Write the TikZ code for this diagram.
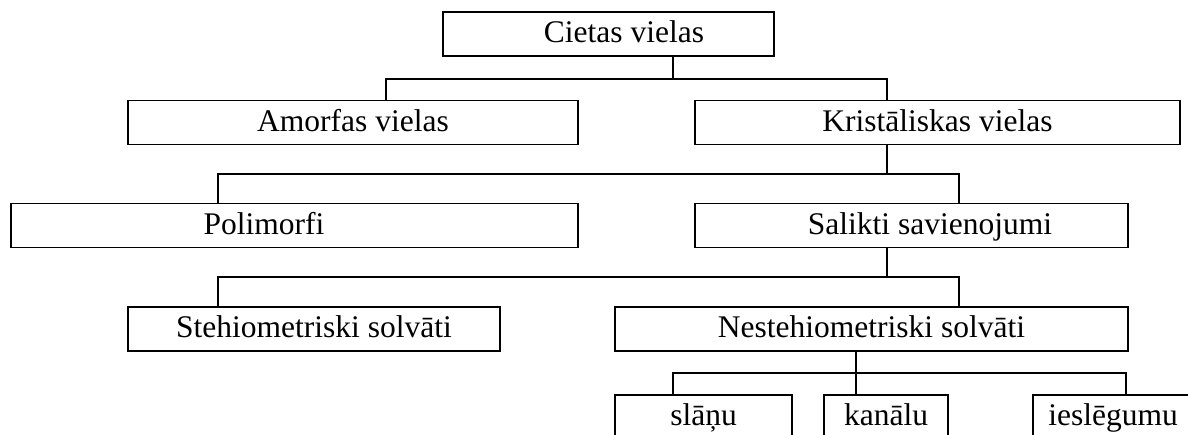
\documentclass[tikz,border=0pt]{standalone}
\usepackage{fontspec}
\setmainfont{Liberation Serif}

\begin{document}
\begin{tikzpicture}[x=1pt, y=-1pt, line width=1.9pt,
    vbox/.style={draw, rectangle, inner sep=0pt, minimum height=44pt,
        text height=22pt, text depth=5pt, font=\fontsize{31.5}{36}\selectfont}]
    \useasboundingbox (0,0) rectangle (1188,434);
    \clip (0,0) rectangle (1188,434);
    % boxes
    \node[vbox, minimum width=331pt] (cietas) at (608.5,34) {\hspace*{31pt}Cietas vielas};
    \node[vbox, minimum width=450pt] (amorfas) at (353,122.5) {Amorfas vielas};
    \node[vbox, minimum width=485pt] (krist) at (937.5,122.5) {Kristāliskas vielas};
    \node[vbox, minimum width=567pt] (polimorfi) at (294.5,225.5) {Polimorfi\hspace*{61pt}};
    \node[vbox, minimum width=433pt] (salikti) at (911.5,225.5) {\hspace*{37pt}Salikti savienojumi};
    \node[vbox, minimum width=372pt] (stehio) at (314,329) {Stehiometriski solvāti};
    \node[vbox, minimum width=513pt] (nestehio) at (871.5,329) {Nestehiometriski solvāti};
    \node[vbox, minimum width=177pt] (slanu) at (703.5,417) {slāņu};
    \node[vbox, minimum width=124pt] (kanalu) at (886,417) {kanālu};
    \node[vbox, minimum width=160pt] (ieslegumu) at (1113,417) {ieslēgumu};
    % connectors
    \coordinate (b1) at (673,79);
    \coordinate (b2) at (887,174);
    \coordinate (b3) at (887,277);
    \coordinate (b4) at (856,373);
    \draw (cietas.south -| b1) -- (b1);
    \draw ([xshift=33pt]amorfas.north) |- (b1) -| ([xshift=-50.5pt]krist.north);
    \draw (krist.south -| b2) -- (b2);
    \draw ([xshift=-76.5pt]polimorfi.north) |- (b2) -| ([xshift=47.5pt]salikti.north);
    \draw (salikti.south -| b3) -- (b3);
    \draw ([xshift=-96pt]stehio.north) |- (b3) -| ([xshift=87.5pt]nestehio.north);
    \draw (nestehio.south -| b4) -- (kanalu.north -| b4);
    \draw ([xshift=-30.5pt]slanu.north) |- (b4) -| ([xshift=13pt]ieslegumu.north);
\end{tikzpicture}
\end{document}
